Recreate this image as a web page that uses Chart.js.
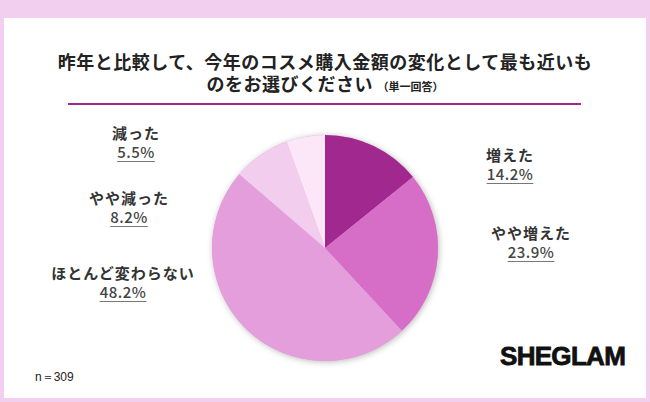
<!DOCTYPE html>
<html><head><meta charset="utf-8">
<script src="https://cdn.jsdelivr.net/npm/chart.js@4.4.0/dist/chart.umd.min.js"></script>
<style>
html,body{margin:0;padding:0;}
body{width:650px;height:402px;background:#f2cfee;position:relative;overflow:hidden;font-family:"Noto Sans CJK JP","Noto Sans",sans-serif;}
#panel{position:absolute;left:4px;top:18px;width:642px;height:380px;background:#fff;}
#title{position:absolute;left:0;top:50px;width:650px;text-align:center;font-weight:bold;font-size:18px;letter-spacing:0.5px;line-height:22px;color:#222;}
#title small{font-size:11px;font-weight:bold;letter-spacing:0;}
#rule{position:absolute;left:68px;top:103px;width:513px;height:2px;background:#a0288f;}
#wrap{position:absolute;left:203px;top:126px;width:244px;height:244px;}
.lab{position:absolute;text-align:center;font-weight:bold;font-size:15px;letter-spacing:1px;line-height:19px;color:#333;white-space:nowrap;transform:translateX(-50%);}
.lab span{display:inline-block;font-weight:500;letter-spacing:0.5px;color:#444;text-decoration:underline;text-decoration-color:#777;text-underline-offset:3px;}
#n{position:absolute;left:35px;top:369px;font-size:12px;color:#222;font-family:"Liberation Sans",sans-serif;}
#logo{position:absolute;left:500px;top:341px;font-family:"Liberation Sans",Arial,sans-serif;font-weight:900;font-size:26px;letter-spacing:-0.7px;color:#111;-webkit-text-stroke:0.8px #111;}
</style></head>
<body>
<div id="panel"></div>
<div id="title">昨年と比較して、今年のコスメ購入金額の変化として最も近いも<br>のをお選びください <small>（単一回答）</small></div>
<div id="rule"></div>
<div id="wrap"><canvas id="c" width="244" height="244"></canvas></div>
<div id="labels"></div>
<div id="n">n＝309</div>
<div id="logo">SHEGLAM</div>
<script>
const categories = ['増えた','やや増えた','ほとんど変わらない','やや減った','減った'];
const values = [14.2, 23.9, 48.2, 8.2, 5.5];
const colors = ['#a0288f','#d66ec8','#e39edb','#f2cdee','#fbe7f7'];
const labelPos = [[510,145],[531,223],[123,263],[129,188],[136,123]];

const lw = document.getElementById('labels');
categories.forEach((c,i)=>{
  const d=document.createElement('div');
  d.className='lab';
  d.style.left=labelPos[i][0]+'px';
  d.style.top=labelPos[i][1]+'px';
  d.innerHTML=c+'<br><span>'+values[i].toFixed(1)+'%</span>';
  lw.appendChild(d);
});

const shadow = {
  id:'shadow',
  beforeDatasetsDraw(chart){
    const a = chart.getDatasetMeta(0).data[0];
    if(!a) return;
    const ctx=chart.ctx;
    ctx.save();
    ctx.shadowColor='rgba(0,0,0,0.28)';
    ctx.shadowBlur=6;
    ctx.shadowOffsetX=1;
    ctx.shadowOffsetY=1;
    ctx.beginPath();
    ctx.arc(a.x,a.y,a.outerRadius,0,Math.PI*2);
    ctx.fillStyle='#e39edb';
    ctx.fill();
    ctx.restore();
  }
};

new Chart(document.getElementById('c'),{
  type:'pie',
  data:{labels:categories,datasets:[{data:values,backgroundColor:colors,borderWidth:0}]},
  options:{
    responsive:false,animation:false,
    layout:{padding:9},
    plugins:{legend:{display:false},tooltip:{enabled:false}}
  },
  plugins:[shadow]
});
</script>
</body></html>
